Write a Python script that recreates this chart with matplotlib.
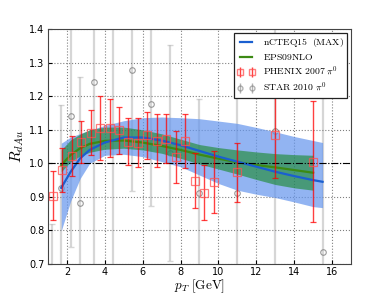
import matplotlib
matplotlib.use("Agg")
import matplotlib.pyplot as plt
from matplotlib.lines import Line2D

plt.rcParams["mathtext.fontset"] = "cm"

# nCTEQ15 (MAX) band
ncteq_x = [1.7, 2.2, 2.7, 3.2, 4.0, 5.0, 6.0, 7.0, 8.0, 9.0, 10.0, 11.0, 12.0, 13.0, 14.0, 15.0, 15.5]
ncteq_c = [0.927, 0.975, 1.015, 1.040, 1.062, 1.077, 1.077, 1.068, 1.054, 1.037, 1.020, 1.005, 0.990, 0.975, 0.962, 0.950, 0.945]
ncteq_hi = [1.060, 1.078, 1.089, 1.099, 1.113, 1.127, 1.136, 1.138, 1.136, 1.133, 1.126, 1.119, 1.107, 1.094, 1.080, 1.068, 1.062]
ncteq_lo = [0.799, 0.888, 0.955, 1.000, 1.024, 1.027, 1.020, 1.005, 0.990, 0.965, 0.940, 0.920, 0.908, 0.898, 0.885, 0.871, 0.868]

# EPS09NLO band
eps_x = [1.7, 2.2, 2.7, 3.2, 4.0, 5.0, 6.0, 7.0, 8.0, 9.0, 10.0, 11.0, 12.0, 13.0, 14.0, 15.0]
eps_c = [0.995, 1.025, 1.045, 1.058, 1.067, 1.068, 1.062, 1.052, 1.040, 1.026, 1.014, 1.003, 0.995, 0.988, 0.980, 0.972]
eps_hi = [1.040, 1.070, 1.087, 1.100, 1.108, 1.108, 1.100, 1.088, 1.072, 1.056, 1.047, 1.040, 1.034, 1.029, 1.026, 1.024]
eps_lo = [0.975, 1.005, 1.022, 1.033, 1.042, 1.045, 1.040, 1.030, 1.015, 0.998, 0.983, 0.968, 0.952, 0.937, 0.927, 0.920]

# PHENIX 2007 pi0
phenix_x = [1.25, 1.75, 2.25, 2.75, 3.25, 3.75, 4.25, 4.75, 5.25, 5.75, 6.25, 6.75, 7.25,
            7.75, 8.25, 8.75, 9.25, 9.75, 11.0, 13.0, 15.0]
phenix_y = [0.903, 0.981, 1.022, 1.064, 1.091, 1.106, 1.106, 1.099, 1.064, 1.062, 1.084, 1.067, 1.074,
            1.018, 1.067, 0.948, 0.912, 0.945, 0.973, 1.084, 1.005]
phenix_err = [0.073, 0.065, 0.060, 0.063, 0.067, 0.095, 0.086, 0.070, 0.070, 0.074, 0.070, 0.079, 0.072,
              0.078, 0.080, 0.082, 0.082, 0.093, 0.088, 0.127, 0.180]

# STAR 2010 pi0
star_x = [1.2, 1.7, 2.2, 2.7, 3.45, 4.45, 5.45, 6.45, 7.45, 9.0, 11.0, 13.0, 15.5]
star_y = [0.60, 0.927, 1.142, 0.883, 1.243, 1.45, 1.277, 1.178, 1.031, 0.912, 0.913, 1.095, 0.735]
star_err = [0.22, 0.246, 0.39, 0.373, 0.60, 0.80, 0.36, 0.305, 0.322, 0.281, 0.32, 0.42, 0.46]

blue = "#1a5fd0"
green = "#3c8a14"

fig = plt.figure(figsize=(3.9, 2.94), dpi=100)
ax = fig.add_axes([0.123, 0.102, 0.777, 0.799])

ax.errorbar(star_x, star_y, yerr=star_err, fmt="none", ecolor="#bbbbbb",
            elinewidth=1.6, capsize=2, alpha=0.6, zorder=1)
ax.plot(star_x, star_y, "o", mfc="none", mec="gray", ms=4, mew=0.8, alpha=0.8, zorder=1.5)

ax.fill_between(ncteq_x, ncteq_lo, ncteq_hi, color="cornflowerblue", alpha=0.7, lw=0, zorder=2)
ax.fill_between(eps_x, eps_lo, eps_hi, color="green", alpha=0.5, lw=0, zorder=2.2)
ax.plot(ncteq_x, ncteq_c, color=blue, lw=1.6, zorder=2.5)
ax.plot(eps_x, eps_c, color=green, lw=1.6, zorder=2.4)

ax.errorbar(phenix_x, phenix_y, yerr=phenix_err, fmt="s", mfc="none", mec="#ff5050", ms=5.5,
            mew=0.9, ecolor="red", elinewidth=1, capsize=2.5, alpha=0.75, zorder=3)

ax.axhline(1.0, color="black", ls="-.", lw=0.8, zorder=2.6)

ax.set_xlim(1, 17)
ax.set_ylim(0.7, 1.4)
ax.set_xticks(range(2, 17, 2))
ax.set_yticks([0.7, 0.8, 0.9, 1.0, 1.1, 1.2, 1.3, 1.4])
ax.tick_params(labelsize=7, direction="in", length=3, pad=2.5)
ax.grid(True, ls=":", color="gray", lw=0.8)
for sp in ax.spines.values():
    sp.set_color("#444444")

ax.set_xlabel(r"$p_T\ [\mathrm{GeV}]$", fontsize=9.5, labelpad=0)
ax.set_ylabel(r"$R_{dAu}$", fontsize=11, labelpad=2)

handles = [
    Line2D([], [], color=blue, lw=1.6),
    Line2D([], [], color=green, lw=1.6),
    ax.errorbar([], [], yerr=[], fmt="s", mfc="none", mec="#ff5050", ms=5, ecolor="red",
                elinewidth=1, capsize=2.5, alpha=0.75),
    ax.errorbar([], [], yerr=[], fmt="o", mfc="none", mec="gray", ms=3.5, ecolor="gray",
                elinewidth=1, capsize=2, alpha=0.6),
]
labels = [r"$\mathrm{nCTEQ15\ \ (MAX)}$", r"$\mathrm{EPS09NLO}$",
          r"$\mathrm{PHENIX\ 2007}\ \pi^0$", r"$\mathrm{STAR\ 2010}\ \pi^0$"]
leg = ax.legend(handles, labels, loc="upper right", fontsize=7, numpoints=2,
                fancybox=False, framealpha=1, edgecolor="#222222", handlelength=1.8,
                labelspacing=0.3, borderpad=0.35, borderaxespad=0.4)
leg.get_frame().set_linewidth(0.9)
leg.set_zorder(5)

fig.savefig("out.png", dpi=100)
